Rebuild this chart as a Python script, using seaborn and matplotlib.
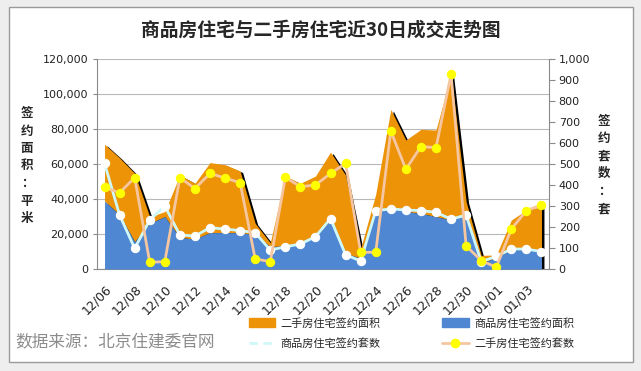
import numpy as np
import pandas as pd
import matplotlib
matplotlib.use('Agg')
import matplotlib.pyplot as plt
import seaborn as sns
from matplotlib.patches import Rectangle, Patch
from matplotlib.lines import Line2D
from matplotlib.ticker import FuncFormatter, MultipleLocator
from matplotlib.transforms import ScaledTranslation

# 日期（30天）
dates = ['12/06', '12/07', '12/08', '12/09', '12/10', '12/11', '12/12', '12/13',
         '12/14', '12/15', '12/16', '12/17', '12/18', '12/19', '12/20', '12/21',
         '12/22', '12/23', '12/24', '12/25', '12/26', '12/27', '12/28', '12/29',
         '12/30', '12/31', '01/01', '01/02', '01/03', '01/04']

# 签约面积（平米）
new_area = [38800, 30900, 15600, 26100, 29900, 18000, 17100, 20800, 20800, 20800,
            19500, 12800, 13200, 14300, 18500, 28000, 9000, 6100, 33700, 34700,
            32800, 31800, 29900, 28000, 30900, 3200, 6700, 10900, 11200, 9900]
used_area = [32500, 32600, 39100, 3800, 2900, 35700, 31900, 40000, 38800, 35200,
             6600, 2200, 39900, 34700, 34600, 38800, 44700, 5700, 9100, 56500,
             40900, 48000, 49500, 83400, 7600, 4600, 1300, 17100, 22500, 25700]

# 签约套数（套）
new_count = [503, 257, 98, 233, 300, 162, 157, 197, 190, 183, 173, 90, 106, 119, 154,
             240, 68, 38, 278, 286, 281, 278, 270, 237, 257, 35, 60, 95, 95, 83]
used_count = [389, 363, 435, 32, 35, 435, 383, 455, 433, 411, 48, 35, 437, 392, 400,
              455, 503, 79, 80, 657, 475, 583, 578, 927, 110, 40, 8, 190, 278, 305]

ORANGE = '#EC9308'
BLUE = '#4F87D2'
CYAN = '#CFF8F8'
PEACH = '#F5C6A0'
YELLOW = '#FFFF00'
GREY = '#8a8a8a'


def main():
    sns.set_theme(style='white')
    plt.rcParams['font.family'] = ['DejaVu Sans', 'Noto Sans CJK SC']
    plt.rcParams['axes.unicode_minus'] = False

    df = pd.DataFrame({'x': np.arange(len(dates)), 'new_area': new_area,
                       'used_area': used_area, 'new_count': new_count,
                       'used_count': used_count})
    total = df['new_area'] + df['used_area']

    fig = plt.figure(figsize=(6.41, 3.71), dpi=100, facecolor='#eeeeee')
    fig.patches.append(Rectangle((9 / 641, 1 - 362 / 371), 624 / 641, 355 / 371,
                                 transform=fig.transFigure, facecolor='white',
                                 edgecolor='#9a9a9a', lw=1, zorder=-10))

    ax = fig.add_axes([97 / 641, 1 - 269 / 371, 452 / 641, 210 / 371])
    ax.set_facecolor('none')

    # 阴影
    shadow = ax.transData + ScaledTranslation(2.5 / 100, -1.5 / 100, fig.dpi_scale_trans)
    ax.fill_between(df['x'], 0, total, color='black', lw=0, transform=shadow, zorder=1)
    ax.fill_between(df['x'], df['new_area'], total, color=ORANGE, lw=0, zorder=2)
    ax.fill_between(df['x'], 0, df['new_area'], color=BLUE, lw=0, zorder=3)

    ax.set_xlim(-0.5, len(dates) - 0.5)
    ax.set_ylim(0, 120000)
    ax.yaxis.set_major_locator(MultipleLocator(20000))
    ax.yaxis.set_major_formatter(FuncFormatter(lambda v, p: f'{int(v):,}'))
    ax.yaxis.grid(True, color='#b8b8b8', lw=0.8)
    ax.set_axisbelow(True)

    ax.set_xticks(np.arange(0, len(dates), 2))
    ax.set_xticklabels(dates[::2], rotation=45, ha='right', rotation_mode='anchor')
    ax.set_xticks(np.arange(-0.5, len(dates), 1), minor=True)
    ax.tick_params(axis='x', which='major', length=0, pad=10, labelsize=9, colors='#222222')
    ax.tick_params(axis='x', which='minor', length=4, width=0.8, color=GREY, direction='out')
    ax.tick_params(axis='y', length=3, width=0.8, color=GREY, direction='out',
                   labelsize=8, labelcolor='#222222', pad=3)
    for s in ['top', 'right']:
        ax.spines[s].set_visible(False)
    for s in ['left', 'bottom']:
        ax.spines[s].set_color(GREY)
        ax.spines[s].set_linewidth(0.8)

    ax2 = ax.twinx()
    sns.lineplot(data=df, x='x', y='new_count', ax=ax2, color=CYAN, lw=2,
                 marker='o', markersize=6, markerfacecolor='white',
                 markeredgecolor='white', zorder=5)
    sns.lineplot(data=df, x='x', y='used_count', ax=ax2, color=PEACH, lw=2,
                 marker='o', markersize=6, markerfacecolor=YELLOW,
                 markeredgecolor=YELLOW, zorder=6)
    ax2.set_ylim(0, 1000)
    ax2.set_xlim(-0.5, len(dates) - 0.5)
    ax2.yaxis.set_major_locator(MultipleLocator(100))
    ax2.yaxis.set_major_formatter(FuncFormatter(lambda v, p: f'{int(v):,}'))
    ax2.set_xlabel('')
    ax2.set_ylabel('')
    ax2.tick_params(axis='y', length=4, width=0.8, color=GREY, direction='out',
                    labelsize=8, labelcolor='#222222', pad=3)
    for s in ['top', 'left', 'bottom']:
        ax2.spines[s].set_visible(False)
    ax2.spines['right'].set_color(GREY)
    ax2.spines['right'].set_linewidth(0.8)

    fig.text(0.5, 1 - 30 / 371, '商品房住宅与二手房住宅近30日成交走势图',
             ha='center', va='center', fontsize=13.5, fontweight='bold',
             family=['Noto Sans CJK SC'])
    fig.text(27 / 641, 1 - 166 / 371, '\n'.join('签约面积：平米'), ha='center',
             va='center', fontsize=9, fontweight='bold', linespacing=1.45,
             family=['Noto Sans CJK SC'])
    fig.text(604 / 641, 1 - 165 / 371, '\n'.join('签约套数：套'), ha='center',
             va='center', fontsize=9, fontweight='bold', linespacing=1.45,
             family=['Noto Sans CJK SC'])
    fig.text(15 / 641, 1 - 343 / 371, '数据来源：北京住建委官网', ha='left',
             va='center', fontsize=12, color='#8c8c8c', family=['Noto Sans CJK SC'])

    handles = [Patch(color=ORANGE),
               Line2D([], [], color=CYAN, lw=2, ls=(0, (3, 2))),
               Patch(color=BLUE),
               Line2D([], [], color=PEACH, lw=2, marker='o', markersize=6,
                      markerfacecolor=YELLOW, markeredgecolor=YELLOW)]
    labels = ['二手房住宅签约面积', '商品房住宅签约套数', '商品房住宅签约面积', '二手房住宅签约套数']
    fig.legend(handles, labels, ncol=2, loc='upper left',
               bbox_to_anchor=(243 / 641, 1 - 312 / 371), frameon=False,
               prop={'family': 'Noto Sans CJK SC', 'size': 8},
               handlelength=2.4, handleheight=0.9, columnspacing=5.5,
               labelspacing=0.9, handletextpad=0.5, borderpad=0)

    fig.savefig('out.png', dpi=100, facecolor=fig.get_facecolor())
    plt.close(fig)


if __name__ == '__main__':
    main()
